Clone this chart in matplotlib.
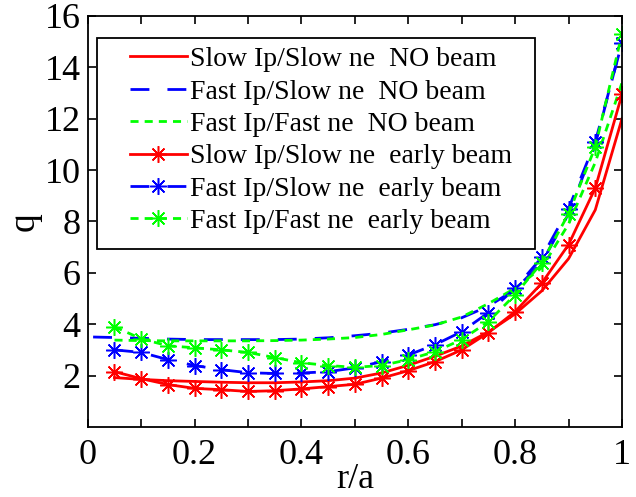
import matplotlib
matplotlib.use('Agg')
import matplotlib.pyplot as plt
from matplotlib.patches import Rectangle

# q profiles versus normalised radius
r_grid = [0.05, 0.10, 0.15, 0.20, 0.25, 0.30, 0.35, 0.40, 0.45, 0.50,
          0.55, 0.60, 0.65, 0.70, 0.75, 0.80, 0.85, 0.90, 0.95, 1.00]
r_grid_blue = [0.01] + r_grid

q_slow_slow_nobeam = [1.92, 1.85, 1.80, 1.77, 1.74, 1.72, 1.72, 1.75, 1.80, 1.90,
                      2.10, 2.40, 2.75, 3.15, 3.70, 4.40, 5.30, 6.55, 8.45, 12.0]
q_fast_slow_nobeam = [3.50, 3.48, 3.45, 3.42, 3.40, 3.40, 3.40, 3.40, 3.42, 3.47, 3.55,
                      3.65, 3.80, 3.98, 4.25, 4.70, 5.35, 6.40, 8.30, 11.0, 15.0]
q_fast_fast_nobeam = [3.38, 3.36, 3.35, 3.35, 3.35, 3.35, 3.36, 3.38, 3.42, 3.48,
                      3.60, 3.78, 3.97, 4.28, 4.80, 5.40, 6.20, 7.90, 10.3, 13.4]
q_slow_slow_early = [2.15, 1.88, 1.65, 1.50, 1.45, 1.38, 1.41, 1.48, 1.57, 1.66,
                     1.90, 2.19, 2.54, 3.00, 3.67, 4.49, 5.60, 7.10, 9.30, 12.95]
q_fast_slow_early = [3.00, 2.90, 2.62, 2.39, 2.23, 2.11, 2.08, 2.10, 2.15, 2.30,
                     2.54, 2.80, 3.20, 3.71, 4.45, 5.40, 6.60, 8.50, 11.1, 14.95]
q_fast_fast_early = [3.90, 3.43, 3.16, 3.08, 3.00, 2.90, 2.70, 2.50, 2.39, 2.32,
                     2.39, 2.62, 2.93, 3.40, 4.10, 5.15, 6.40, 8.30, 10.9, 15.3]

labels = ['Slow Ip/Slow ne  NO beam',
          'Fast Ip/Slow ne  NO beam',
          'Fast Ip/Fast ne  NO beam',
          'Slow Ip/Slow ne  early beam',
          'Fast Ip/Slow ne  early beam',
          'Fast Ip/Fast ne  early beam']

x_ticks = [0, 0.2, 0.4, 0.6, 0.8, 1.0]
x_ticklabels = ['0', '0.2', '0.4', '0.6', '0.8', '1']
x_minor = [0.1, 0.3, 0.5, 0.7, 0.9]
y_ticks = [2, 4, 6, 8, 10, 12, 14, 16]

plt.rcParams['font.family'] = ['Liberation Serif', 'DejaVu Serif']

DASH = (6.8, 6.5)
DOT = (2.9, 2.2)
STAR = (8, 2, 0)

fig = plt.figure(figsize=(6.36, 4.97), dpi=100)
ax = fig.add_axes([0.138, 0.141, 0.840, 0.827])

lw = 2.0
ax.plot(r_grid, q_slow_slow_nobeam, color='#ff0000', lw=lw, label=labels[0])
ax.plot(r_grid_blue, q_fast_slow_nobeam, color='#0000ff', lw=lw, dashes=DASH, label=labels[1])
ax.plot(r_grid, q_fast_fast_nobeam, color='#00ff00', lw=lw, dashes=DOT, label=labels[2])
mk = dict(marker=STAR, markersize=12, markeredgewidth=1.1)
ax.plot(r_grid, q_slow_slow_early, color='#ff0000', lw=lw, label=labels[3], **mk)
ax.plot(r_grid, q_fast_slow_early, color='#0000ff', lw=lw, dashes=DASH, label=labels[4], **mk)
ax.plot(r_grid, q_fast_fast_early, color='#00ff00', lw=lw, dashes=DOT, label=labels[5], **mk)

ax.set_xlim(0, 1)
ax.set_ylim(0, 16)
ax.set_xticks(x_ticks)
ax.set_xticklabels(x_ticklabels)
ax.set_xticks(x_minor, minor=True)
ax.set_yticks(y_ticks)
ax.tick_params(which='both', direction='in', top=True, right=True,
               length=6, width=1.2, labelsize=26)
ax.tick_params(axis='x', pad=9)
ax.tick_params(axis='y', pad=5)
for s in ax.spines.values():
    s.set_linewidth(1.3)

ax.set_xlabel('r/a', fontsize=26, labelpad=-7)
ax.set_ylabel('q', fontsize=27, labelpad=2)

# legend entries without a frame; the box is drawn separately
leg = ax.legend(loc='upper left', bbox_to_anchor=(0.0787, 0.925), fontsize=20,
                handlelength=2.05, handletextpad=0.1, labelspacing=0.25,
                borderpad=0, borderaxespad=0, frameon=False)
ax.add_patch(Rectangle((0.017, 0.432), 0.820, 0.514, transform=ax.transAxes,
                       facecolor='white', edgecolor='black', lw=1.3, zorder=4))
leg.set_zorder(5)

fig.savefig('out.png', dpi=100)
